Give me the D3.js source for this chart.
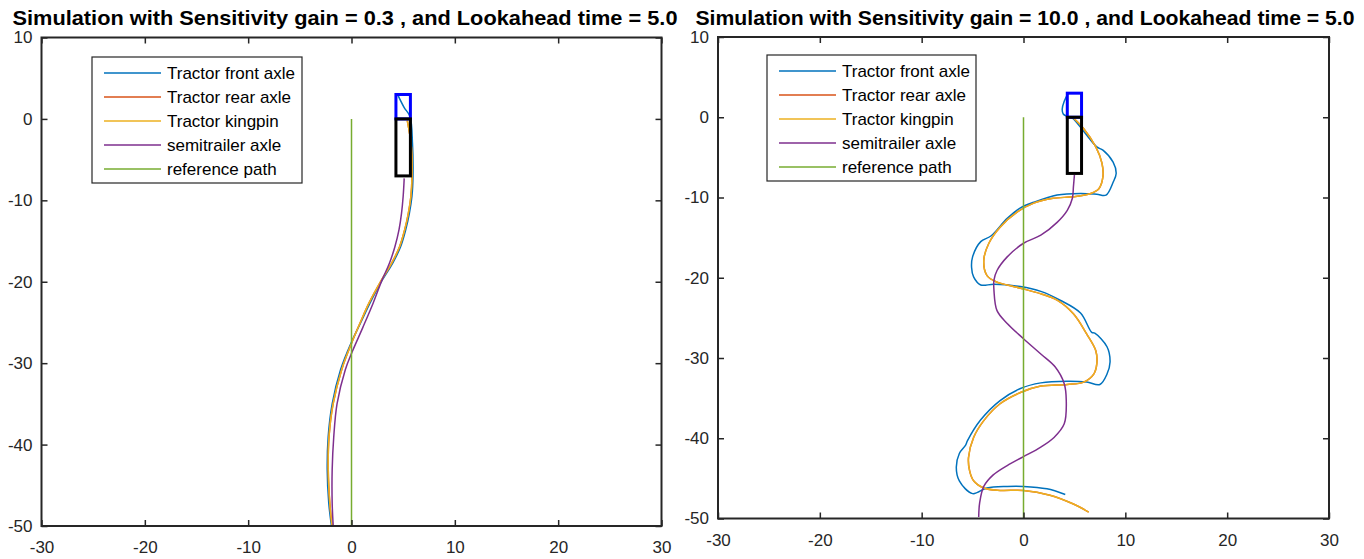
<!DOCTYPE html>
<html>
<head>
<meta charset="utf-8">
<script src="https://cdn.jsdelivr.net/npm/d3@7"></script>
<style>
  html, body { margin: 0; padding: 0; background: #fff; }
  svg { display: block; font-family: "Liberation Sans", Arial, sans-serif; }
</style>
</head>
<body>
<svg id="fig" width="1364" height="559"></svg>
<script>
// ---- shared axis values ----
const xTicks = [-30, -20, -10, 0, 10, 20, 30];
const yTicks = [10, 0, -10, -20, -30, -40, -50];
const xDomain = [-30, 30];
const yDomain = [-50, 10];

const seriesNames = ["Tractor front axle", "Tractor rear axle", "Tractor kingpin", "semitrailer axle", "reference path"];
const seriesColors = ["#0072BD", "#D95319", "#EDB120", "#7E2F8E", "#77AC30"];

// reference path: straight line along x = 0
const referencePath = [[0, 0], [0, -50]];

// vehicle outlines at the start position [xmin, xmax, ymin, ymax]
const tractorBox = [4.3, 5.7, 0, 3];
const trailerBox = [4.3, 5.7, -7, 0];

// ---- run 1: sensitivity gain 0.3 ----
const titleA = "Simulation with Sensitivity gain = 0.3 , and Lookahead time = 5.0";
const frontA = [[4.5, 2.9], [5.1, 1.4], [5.66, 0.3], [5.9, -3.0], [5.95, -7.1], [5.85, -9.5], [5.6, -11.6],
  [5.25, -13.6], [4.75, -15.7], [3.95, -17.8], [2.97, -19.8], [1.8, -22.6], [0.9, -25.0], [0, -27.4],
  [-1.06, -30.8], [-1.87, -35.0], [-2.26, -39.1], [-2.35, -43.1], [-2.2, -47.2], [-1.94, -50]];
const rearA = [[5.4, -0.2], [5.8, -3.5], [5.85, -7.1], [5.75, -9.5], [5.5, -11.6], [5.15, -13.6], [4.65, -15.7],
  [3.85, -17.8], [2.9, -19.8], [1.7, -22.6], [0.85, -25.0], [0.05, -27.4], [-0.95, -30.8], [-1.78, -35.0],
  [-2.18, -39.1], [-2.25, -43.1], [-2.1, -47.2], [-1.88, -50]];
const kingpinA = [[5.4, -0.2], [5.8, -3.5], [5.85, -7.1], [5.75, -9.5], [5.5, -11.6], [5.15, -13.6], [4.65, -15.7],
  [3.85, -17.8], [2.9, -19.8], [1.7, -22.6], [0.85, -25.0], [0.05, -27.4], [-0.95, -30.8], [-1.78, -35.0],
  [-2.18, -39.1], [-2.25, -43.1], [-2.1, -47.2], [-1.88, -50]];
const trailerA = [[5.1, -7.3], [5.0, -9.5], [4.84, -11.6], [4.6, -13.6], [4.2, -15.7], [3.65, -17.8],
  [2.95, -19.8], [2.1, -22.6], [1.1, -25.6], [0, -28.8], [-0.6, -30.8], [-1.4, -35.0], [-1.72, -39.1],
  [-1.87, -43.1], [-1.87, -47.2], [-1.77, -50]];

// ---- run 2: sensitivity gain 10.0 ----
const titleB = "Simulation with Sensitivity gain = 10.0 , and Lookahead time = 5.0";
const frontB = [[4.4, 3.0], [4.0, 2.0], [3.8, 1.0], [3.9, 0.4], [4.3, 0.1], [4.8, -0.1], [6.0, -1.9],
  [7.2, -3.7], [7.8, -4.1], [8.8, -5.6], [9.1, -7.0], [8.8, -8.1], [8.1, -9.7], [7.2, -9.6], [5.6, -9.5],
  [3.3, -9.7], [1.0, -10.6], [-0.3, -11.3], [-1.6, -12.6], [-3.2, -14.8], [-4.2, -15.5], [-5.0, -17.4],
  [-5.1, -18.7], [-4.9, -19.9], [-4.2, -20.9], [-2.9, -20.8], [-0.3, -21.1], [1.7, -21.7], [3.6, -22.8],
  [5.6, -24.4], [6.7, -26.8], [7.0, -26.9], [8.2, -28.6], [8.5, -30.5], [8.2, -32.0], [7.5, -33.3],
  [6.2, -33.0], [4.3, -32.9], [1.7, -33.1], [-0.3, -33.8], [-2.3, -35.3], [-4.2, -37.7], [-5.5, -40.3],
  [-5.7, -40.9], [-6.3, -41.9], [-6.6, -43.6], [-6.3, -45.3], [-5.0, -46.9], [-3.6, -46.2], [-1.6, -46.0],
  [0.0, -46.0], [2.3, -46.3], [4.1, -47.0]];
const rearB = [[4.9, -0.1], [5.9, -1.4], [7.1, -3.7], [7.7, -5.7], [7.8, -7.4], [7.4, -8.9], [6.6, -9.5],
  [4.9, -9.9], [2.9, -10.1], [1.0, -10.7], [-0.6, -11.8], [-2.3, -13.7], [-3.4, -15.7], [-3.9, -17.8],
  [-3.6, -19.7], [-2.7, -20.5], [-1.6, -20.9], [0.0, -21.4], [1.7, -22.0], [3.3, -22.8], [4.9, -24.5],
  [6.2, -27.0], [7.1, -29.1], [7.2, -30.7], [6.9, -32.0], [5.9, -33.0], [4.3, -33.3], [1.7, -33.5],
  [-0.3, -34.3], [-2.3, -35.7], [-3.9, -37.8], [-4.9, -39.9], [-5.4, -42.4], [-5.3, -44.0], [-4.9, -45.3],
  [-3.9, -46.2], [-2.3, -46.5], [0.0, -46.5], [2.6, -47.1], [4.9, -48.2], [6.4, -49.2]];
const kingpinB = [[4.9, -0.1], [5.9, -1.4], [7.1, -3.7], [7.7, -5.7], [7.8, -7.4], [7.4, -8.9], [6.6, -9.5],
  [4.9, -9.9], [2.9, -10.1], [1.0, -10.7], [-0.6, -11.8], [-2.3, -13.7], [-3.4, -15.7], [-3.9, -17.8],
  [-3.6, -19.7], [-2.7, -20.5], [-1.6, -20.9], [0.0, -21.4], [1.7, -22.0], [3.3, -22.8], [4.9, -24.5],
  [6.2, -27.0], [7.1, -29.1], [7.2, -30.7], [6.9, -32.0], [5.9, -33.0], [4.3, -33.3], [1.7, -33.5],
  [-0.3, -34.3], [-2.3, -35.7], [-3.9, -37.8], [-4.9, -39.9], [-5.4, -42.4], [-5.3, -44.0], [-4.9, -45.3],
  [-3.9, -46.2], [-2.3, -46.5], [0.0, -46.5], [2.6, -47.1], [4.9, -48.2], [6.4, -49.2]];
const trailerB = [[5.0, -7.2], [4.9, -8.7], [4.8, -10.1], [4.3, -11.6], [3.3, -13.1], [1.7, -14.7],
  [0.0, -15.7], [-1.6, -17.4], [-2.6, -19.1], [-2.9, -20.3], [-2.9, -21.6], [-2.6, -24.1], [-1.6, -25.7],
  [0.0, -27.6], [1.7, -29.5], [3.1, -31.1], [4.0, -33.2], [4.2, -35.3], [4.0, -38.2], [3.0, -39.9],
  [1.7, -41.1], [0.0, -42.3], [-1.6, -43.4], [-3.0, -44.6], [-3.9, -46.0], [-4.3, -48.0], [-4.4, -49.8]];

// ---- layout of the two panels ----
const panels = [
  { title: titleA, series: [frontA, rearA, kingpinA, trailerA, referencePath],
    left: 41.5, right: 661.5, top: 37.5, bottom: 526, titleX: 345, titleW: 665,
    legend: { x: 92, y: 57, w: 210, h: 126 } },
  { title: titleB, series: [frontB, rearB, kingpinB, trailerB, referencePath],
    left: 718, right: 1329, top: 37, bottom: 518.5, titleX: 1025, titleW: 659,
    legend: { x: 767, y: 55, w: 209, h: 126 } }
];

const svg = d3.select("#fig");
const axisColor = "#262626";
const fontSize = 17;

panels.forEach(p => {
  const x = d3.scaleLinear().domain(xDomain).range([p.left, p.right]);
  const y = d3.scaleLinear().domain(yDomain).range([p.bottom, p.top]);
  const g = svg.append("g");

  // title
  g.append("text")
    .attr("x", p.titleX).attr("y", 25)
    .attr("text-anchor", "middle")
    .attr("font-weight", "bold")
    .attr("font-size", 20.5)
    .attr("textLength", p.titleW)
    .attr("lengthAdjust", "spacingAndGlyphs")
    .attr("fill", "#000")
    .text(p.title);

  // curves
  const clipId = "clip" + Math.round(p.left);
  svg.append("clipPath").attr("id", clipId)
    .append("rect").attr("x", p.left).attr("y", p.top)
    .attr("width", p.right - p.left).attr("height", p.bottom - p.top);

  const line = d3.line().x(d => x(d[0])).y(d => y(d[1])).curve(d3.curveCatmullRom.alpha(0.5));
  const plot = g.append("g").attr("clip-path", `url(#${clipId})`);
  p.series.forEach((s, i) => {
    plot.append("path")
      .attr("d", line(s))
      .attr("fill", "none")
      .attr("stroke", seriesColors[i])
      .attr("stroke-width", 1.5)
      .attr("stroke-linejoin", "round");
  });

  // vehicle outlines
  [[tractorBox, "#0000FF"], [trailerBox, "#000000"]].forEach(([b, c]) => {
    plot.append("rect")
      .attr("x", x(b[0])).attr("y", y(b[3]))
      .attr("width", x(b[1]) - x(b[0]))
      .attr("height", y(b[2]) - y(b[3]))
      .attr("fill", "none")
      .attr("stroke", c)
      .attr("stroke-width", 3);
  });

  // axes: bottom and left with labels, ticks pointing inward, mirrored on top/right
  const tickLen = 6;
  const fmt = d => String(d);
  const axB = d3.axisBottom(x).tickValues(xTicks).tickSize(-tickLen).tickPadding(15).tickFormat(fmt);
  const axT = d3.axisTop(x).tickValues(xTicks).tickSize(-tickLen).tickFormat("");
  const axL = d3.axisLeft(y).tickValues(yTicks).tickSize(-tickLen).tickPadding(9).tickFormat(fmt);
  const axR = d3.axisRight(y).tickValues(yTicks).tickSize(-tickLen).tickFormat("");

  const styleAxis = sel => {
    sel.select(".domain").remove();
    sel.selectAll(".tick line").attr("stroke", axisColor).attr("stroke-width", 1.5);
    sel.selectAll(".tick text").attr("fill", axisColor)
      .attr("font-size", fontSize)
      .attr("font-family", "\"Liberation Sans\", Arial, sans-serif");
  };
  g.append("g").attr("transform", `translate(0,${p.bottom})`).call(axB).call(styleAxis);
  g.append("g").attr("transform", `translate(0,${p.top})`).call(axT).call(styleAxis);
  g.append("g").attr("transform", `translate(${p.left},0)`).call(axL).call(styleAxis);
  g.append("g").attr("transform", `translate(${p.right},0)`).call(axR).call(styleAxis);

  // axes box
  g.append("rect")
    .attr("x", p.left).attr("y", p.top)
    .attr("width", p.right - p.left).attr("height", p.bottom - p.top)
    .attr("fill", "none").attr("stroke", axisColor).attr("stroke-width", 2);

  // legend
  const L = p.legend;
  const lg = g.append("g").attr("transform", `translate(${L.x},${L.y})`);
  lg.append("rect").attr("width", L.w).attr("height", L.h)
    .attr("fill", "#fff").attr("stroke", axisColor).attr("stroke-width", 1.2);
  seriesNames.forEach((name, i) => {
    const cy = 16 + i * 24;
    lg.append("line").attr("x1", 12).attr("x2", 69).attr("y1", cy).attr("y2", cy)
      .attr("stroke", seriesColors[i]).attr("stroke-width", 1.5);
    lg.append("text").attr("x", 75).attr("y", cy).attr("dy", "0.35em")
      .attr("font-size", 17).attr("fill", "#000").text(name);
  });
});
</script>
</body>
</html>
